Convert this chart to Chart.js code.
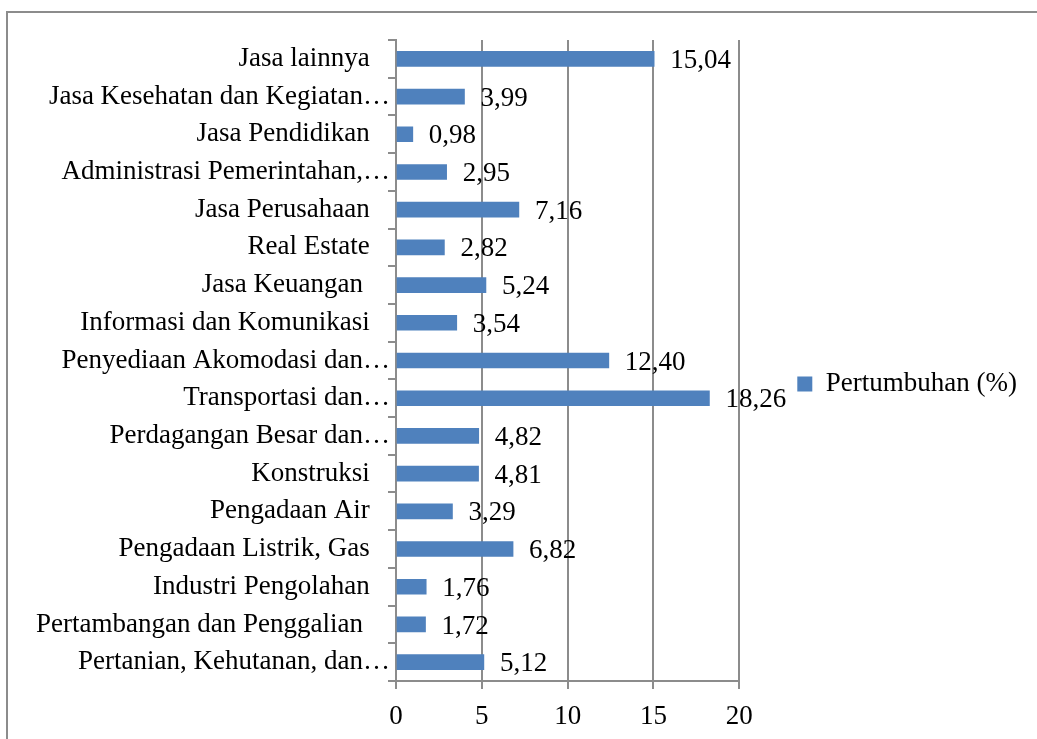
<!DOCTYPE html>
<html>
<head>
<meta charset="utf-8">
<script src="https://cdn.jsdelivr.net/npm/chart.js@4"></script>
<style>
    html, body { margin: 0; padding: 0; background: #fff; overflow: hidden; }
    .frame {
        position: absolute;
        left: 6px;
        top: 11px;
        width: 1060px;
        height: 744px;
        border-left: 2px solid #8c8c8c;
        border-top: 2px solid #8c8c8c;
    }
    canvas { display: block; }
</style>
</head>
<body>
<div class="frame"><canvas id="chart" width="1060" height="715"></canvas></div>
<script>
// ===== DATA =====
const categories = [
    'Jasa lainnya',
    'Jasa Kesehatan dan Kegiatan…',
    'Jasa Pendidikan',
    'Administrasi Pemerintahan,…',
    'Jasa Perusahaan',
    'Real Estate',
    'Jasa Keuangan ',
    'Informasi dan Komunikasi',
    'Penyediaan Akomodasi dan…',
    'Transportasi dan…',
    'Perdagangan Besar dan…',
    'Konstruksi',
    'Pengadaan Air',
    'Pengadaan Listrik, Gas',
    'Industri Pengolahan',
    'Pertambangan dan Penggalian ',
    'Pertanian, Kehutanan, dan…'
];
const growth = [15.04, 3.99, 0.98, 2.95, 7.16, 2.82, 5.24, 3.54, 12.40, 18.26, 4.82, 4.81, 3.29, 6.82, 1.76, 1.72, 5.12];
const xTicks = [0, 5, 10, 15, 20];

const seriesName = 'Pertumbuhan (%)';
const barColor = '#4f81bd';
const gridColor = '#8c8c8c';
const fontFamily = "'Liberation Serif', 'Times New Roman', serif";
const fontSize = 27;

// Draws the value next to the end of each bar (comma decimals)
const valueLabels = {
    id: 'valueLabels',
    afterDatasetsDraw(chart) {
        const ctx = chart.ctx;
        const meta = chart.getDatasetMeta(0);
        ctx.save();
        ctx.font = fontSize + 'px ' + fontFamily;
        ctx.fillStyle = '#000';
        ctx.textAlign = 'left';
        ctx.textBaseline = 'middle';
        meta.data.forEach((bar, i) => {
            const text = growth[i].toFixed(2).replace('.', ',');
            ctx.fillText(text, bar.x + 16, bar.y + 2);
        });
        ctx.restore();
    }
};

new Chart(document.getElementById('chart'), {
    type: 'bar',
    data: {
        labels: categories,
        datasets: [{
            label: seriesName,
            data: growth,
            backgroundColor: barColor,
            borderWidth: 0,
            barThickness: 15
        }]
    },
    options: {
        indexAxis: 'y',
        responsive: false,
        animation: false,
        layout: {
            padding: { top: 27, right: 41, bottom: 0, left: 0 }
        },
        scales: {
            x: {
                min: 0,
                max: 20,
                afterBuildTicks: (scale) => {
                    scale.ticks = xTicks.map(v => ({ value: v }));
                },
                afterFit: (scale) => { scale.height = 47; },
                grid: {
                    color: gridColor,
                    lineWidth: 2,
                    tickLength: 8
                },
                border: { color: gridColor, width: 2 },
                ticks: {
                    color: '#000',
                    padding: 12,
                    font: { family: fontFamily, size: fontSize }
                }
            },
            y: {
                afterFit: (scale) => { scale.width = 388; },
                grid: {
                    drawOnChartArea: false,
                    color: gridColor,
                    lineWidth: 2,
                    tickLength: 8,
                    offset: true
                },
                border: { color: gridColor, width: 2 },
                ticks: {
                    color: '#000',
                    padding: -2,
                    autoSkip: false,
                    font: { family: fontFamily, size: fontSize },
                    callback: (value, index) => {
                        const label = categories[index];
                        return label.endsWith('…') ? label : label + '   ';
                    }
                }
            }
        },
        plugins: {
            legend: {
                position: 'right',
                maxWidth: 400,
                labels: {
                    color: '#000',
                    boxWidth: 15,
                    boxHeight: 15,
                    padding: 58,
                    font: { family: fontFamily, size: fontSize }
                }
            },
            tooltip: { enabled: false }
        }
    },
    plugins: [valueLabels]
});
</script>
</body>
</html>
